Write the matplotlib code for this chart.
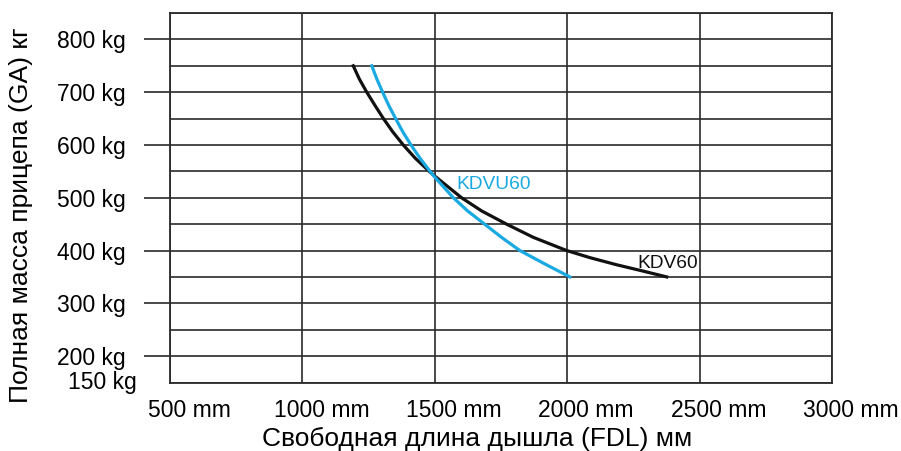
import matplotlib.pyplot as plt
import matplotlib.transforms as mtransforms

plt.rcParams['font.family'] = ['Liberation Sans', 'DejaVu Sans']

# data
kdv60_x = [1192, 1215, 1243, 1274, 1306, 1341, 1381, 1426, 1479, 1500, 1601,
           1677, 1771, 1872, 1998, 2086, 2187, 2287, 2376]
kdv60_y = [750, 725, 700, 675, 650, 625, 600, 575, 550, 541, 500,
           475, 450, 425, 400, 386.5, 373, 361, 350]
kdvu60_x = [1262, 1281, 1303, 1326, 1352, 1379, 1410, 1444, 1482, 1500, 1570,
            1624, 1688, 1752, 1821, 1914, 2010]
kdvu60_y = [750, 725, 700, 675, 650, 625, 600, 575, 550, 539, 500,
            475, 450, 425, 400, 375, 350]

x_ticks = [500, 1000, 1500, 2000, 2500, 3000]
x_labels = ["500 mm", "1000 mm", "1500 mm", "2000 mm", "2500 mm", "3000 mm"]
y_ticks = [200, 300, 400, 500, 600, 700, 800]
y_labels = ["200 kg", "300 kg", "400 kg", "500 kg", "600 kg", "700 kg", "800 kg"]
y_grid = list(range(150, 851, 50))

fig = plt.figure(figsize=(9.01, 4.51), dpi=100)
ax = fig.add_axes([170/901, 1-382.5/451, (832-170)/901, (382.5-13)/451])

grid_col = "#2a2a2a"
ax.set_xlim(500, 3000)
ax.set_ylim(150, 850)
ax.set_xticks(x_ticks)
ax.set_xticklabels(x_labels, fontsize=16.5)
ax.set_yticks(y_ticks)
ax.set_yticklabels(y_labels, fontsize=16.5)
ax.set_yticks(y_grid, minor=True)
ax.tick_params(axis='x', length=0, pad=12)
ax.tick_params(axis='y', which='major', length=19, width=1.2, color=grid_col, pad=13)
ax.tick_params(axis='y', which='minor', length=0)
ax.grid(True, which='both', color=grid_col, linewidth=1.2)
for s in ax.spines.values():
    s.set_color(grid_col)
    s.set_linewidth(1.3)

shift = mtransforms.ScaledTranslation(19/100, 0, fig.dpi_scale_trans)
for lab in ax.get_xticklabels():
    lab.set_transform(lab.get_transform() + shift)

ax.text(-0.05, 150, "150 kg", transform=ax.get_yaxis_transform(),
        ha='right', va='center', fontsize=16.5)

ax.plot(kdv60_x, kdv60_y, color="#111111", linewidth=2.3)
ax.plot(kdvu60_x, kdvu60_y, color="#1aa9e1", linewidth=2.3)
ax.text(1580, 525, "KDVU60", color="#1aa9e1", fontsize=13.8, va='center')
ax.text(2265, 376, "KDV60", color="#111111", fontsize=13.8, va='center')

ax.set_xlabel("Свободная длина дышла (FDL) мм", fontsize=19)
ax.set_ylabel("Полная масса прицепа (GA) кг", fontsize=19)
ax.xaxis.set_label_coords(0.464, -0.12)
ax.yaxis.set_label_coords(-0.207, 0.452)

fig.savefig("out.png", dpi=100)
